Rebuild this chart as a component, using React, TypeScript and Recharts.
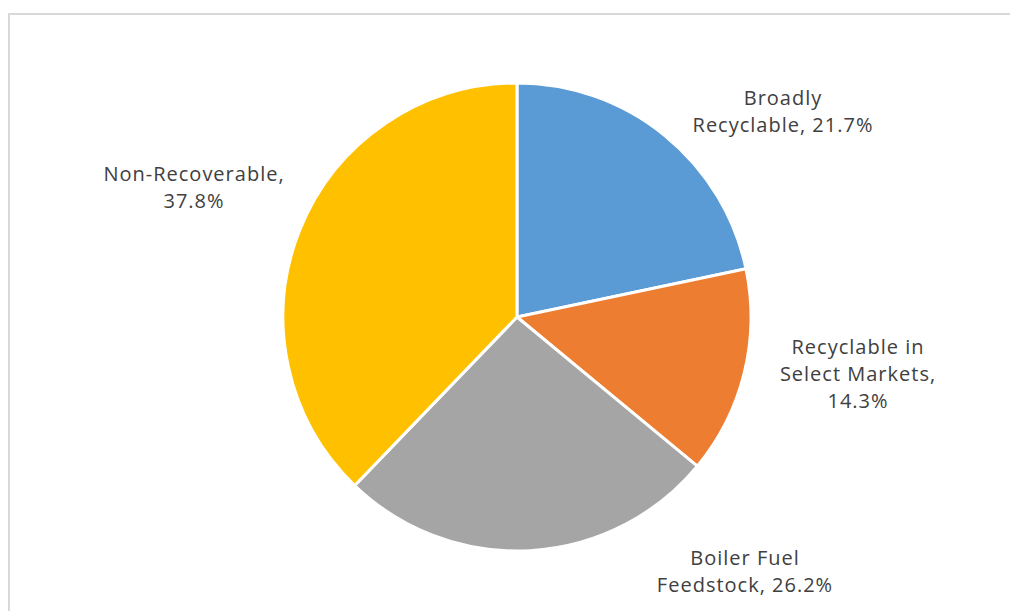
import React from 'react';
import { PieChart, Pie, Cell } from 'recharts';

const categories = ['Broadly Recyclable', 'Recyclable in Select Markets', 'Boiler Fuel Feedstock', 'Non-Recoverable'];
const shares = [21.7, 14.3, 26.2, 37.8];
const colors = ['#5B9BD5', '#ED7D31', '#A5A5A5', '#FFC000'];
const labelLines = [
  ['Broadly', 'Recyclable, 21.7%'],
  ['Recyclable in', 'Select Markets,', '14.3%'],
  ['Boiler Fuel', 'Feedstock, 26.2%'],
  ['Non-Recoverable,', '37.8%'],
];
// label block centre offsets from pie centre (layout)
const labelOffsets = [
  [266, -206],
  [341, 56],
  [228, 254],
  [-323, -130],
];

const data = categories.map((name, i) => ({ name, value: shares[i] }));

const renderLabel = (props: any) => {
  const { cx, cy, index } = props;
  const lines = labelLines[index];
  const [dx, dy] = labelOffsets[index];
  const lh = 27;
  const x = cx + dx;
  const y0 = cy + dy - ((lines.length - 1) * lh) / 2;
  return (
    <text x={x} y={y0} textAnchor="middle" fill="#404040" fontSize={20} letterSpacing={1} fontFamily="'Open Sans', sans-serif">
      {lines.map((l, k) => (
        <tspan key={k} x={x} y={y0 + k * lh} dominantBaseline="central">{l}</tspan>
      ))}
    </text>
  );
};

export default function App() {
  return (
    <div style={{ position: 'absolute', left: 0, top: 0, width: 1010, height: 611, overflow: 'hidden', background: '#fff' }}>
      <div style={{ position: 'absolute', left: 8, top: 13, width: 1200, height: 800, border: '2px solid #D9D9D9', boxSizing: 'border-box' }} />
      <div style={{ position: 'absolute', left: 0, top: 0 }}>
        <PieChart width={1010} height={611} margin={{ top: 0, right: 0, bottom: 0, left: 0 }}>
          <Pie
            data={data}
            dataKey="value"
            nameKey="name"
            cx={517}
            cy={317}
            outerRadius={234}
            startAngle={90}
            endAngle={-270}
            stroke="#FFFFFF"
            strokeWidth={3}
            label={renderLabel}
            labelLine={false}
            isAnimationActive={false}
          >
            {data.map((d, i) => (
              <Cell key={d.name} fill={colors[i]} />
            ))}
          </Pie>
        </PieChart>
      </div>
    </div>
  );
}
